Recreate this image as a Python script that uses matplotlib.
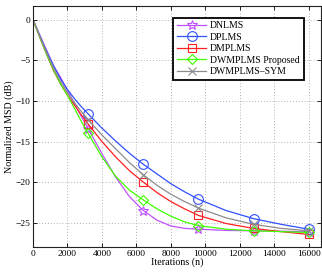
import matplotlib
matplotlib.use("Agg")
import matplotlib.pyplot as plt

iters = [0, 400, 800, 1200, 1600, 2000, 2400, 2800, 3200, 4000, 4800, 5600, 6400,
         7200, 8000, 8800, 9600, 11200, 12800, 14400, 16000]
dnlms = [0, -1.9, -3.8, -5.7, -7.1, -8.7, -10.3, -11.9, -13.4, -16.5, -19.4, -21.8, -23.5,
         -24.7, -25.4, -25.7, -25.8, -25.95, -26.0, -26.05, -26.1]
dplms = [0, -2.0, -3.95, -5.7, -7.3, -8.6, -9.7, -10.7, -11.6, -13.35, -14.95, -16.45, -17.8,
         -19.0, -20.2, -21.2, -22.1, -23.5, -24.5, -25.2, -25.8]
dmplms = [0, -2.2, -4.3, -6.3, -7.9, -9.3, -10.5, -11.7, -12.85, -15.0, -16.9, -18.6, -20.0,
          -21.3, -22.4, -23.3, -24.1, -25.1, -25.7, -26.1, -26.45]
dwmplms = [0, -2.2, -4.3, -6.2, -7.9, -9.3, -10.9, -12.5, -14.0, -16.9, -19.3, -21.0, -22.2,
           -23.3, -24.2, -24.9, -25.35, -25.8, -26.0, -26.1, -26.2]
dwmplms_sym = [0, -2.1, -4.1, -6.0, -7.6, -9.0, -10.2, -11.3, -12.3, -14.2, -15.9, -17.6, -19.1,
               -20.4, -21.5, -22.4, -23.2, -24.4, -25.2, -25.7, -26.0]

labels = ["DNLMS", "DPLMS", "DMPLMS", "DWMPLMS Proposed", "DWMPLMS\u2013SYM"]
series = [dnlms, dplms, dmplms, dwmplms, dwmplms_sym]
colors = ["#c050ff", "#3050ff", "#ff2020", "#40ff00", "#8c8c8c"]
markers = ["*", "o", "s", "D", "x"]
msizes = [7, 7, 6, 5.5, 6]
marker_idx = [8, 12, 16, 18, 20]

plt.rcParams['font.family'] = ['Liberation Serif', 'DejaVu Serif']
plt.rcParams['font.size'] = 7

fig = plt.figure(figsize=(3.22, 2.73), dpi=100)
ax = fig.add_axes([0.1025, 0.095, 0.894, 0.883])

for y, lab, c, m, ms in zip(series, labels, colors, markers, msizes):
    ax.plot(iters, y, color=c, lw=0.9, marker=m, markevery=marker_idx,
            markersize=ms, markerfacecolor='none', markeredgecolor=c,
            markeredgewidth=0.8, label=lab)

ax.set_xlim(0, 16700)
ax.set_ylim(-28, 1.7)
ax.set_xticks([0, 2000, 4000, 6000, 8000, 10000, 12000, 14000, 16000])
ax.set_yticks([0, -5, -10, -15, -20, -25])
ax.set_yticklabels(["0", "\u22125", "\u221210", "\u221215", "\u221220", "\u221225"])
ax.tick_params(direction='in', top=True, right=True, length=3, width=0.6,
               labelsize=6.8, pad=2)
ax.grid(True, linestyle=(0, (1, 2.5)), color='#999999', linewidth=0.6)
for s in ax.spines.values():
    s.set_linewidth(0.8)
    s.set_color('#222222')

ax.set_xlabel("Iterations (n)", fontsize=7.2, labelpad=0)
ax.set_ylabel("Normalized MSD (dB)", fontsize=7.2, labelpad=1)

leg = ax.legend(loc='upper right', bbox_to_anchor=(0.94, 0.952), fontsize=7,
                fancybox=False, framealpha=1, edgecolor='black',
                handlelength=3.0, borderpad=0.4, labelspacing=0.25,
                handletextpad=0.4, borderaxespad=0.0)
leg.get_frame().set_linewidth(1.3)

fig.savefig("out.png", dpi=100)
